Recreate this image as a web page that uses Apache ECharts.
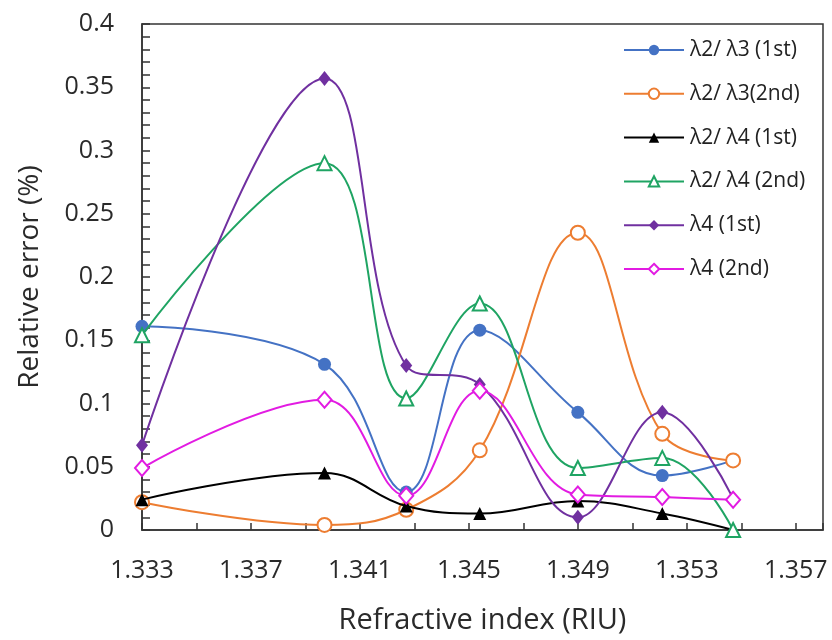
<!DOCTYPE html>
<html>
<head>
<meta charset="utf-8">
<script src="https://cdn.jsdelivr.net/npm/echarts@6/dist/echarts.min.js"></script>
<style>html,body{margin:0;padding:0;background:#fff;}#chart{width:832px;height:640px;}</style>
</head>
<body>
<div id="chart"></div>
<script>
// Refractive index (RIU) of the measured points
const xValues = [1.3330, 1.3397, 1.3427, 1.3454, 1.3490, 1.3521, 1.3547];
// Relative error (%)
const l23first  = [0.161, 0.131, 0.030, 0.158, 0.093, 0.043, 0.055];
const l23second = [0.022, 0.004, 0.016, 0.063, 0.235, 0.076, 0.055];
const l24first  = [0.024, 0.045, 0.019, 0.013, 0.023, 0.013, 0.000];
const l24second = [0.154, 0.290, 0.104, 0.179, 0.049, 0.057, 0.000];
const l4first   = [0.067, 0.357, 0.130, 0.115, 0.010, 0.093, 0.025];
const l4second  = [0.049, 0.103, 0.027, 0.110, 0.028, 0.026, 0.024];
const seriesNames = ['λ2/ λ3 (1st)', 'λ2/ λ3(2nd)', 'λ2/ λ4 (1st)', 'λ2/ λ4 (2nd)', 'λ4 (1st)', 'λ4 (2nd)'];
const xTickLabels = ['1.333', '1.337', '1.341', '1.345', '1.349', '1.353', '1.357'];
const yTickLabels = ['0', '0.05', '0.1', '0.15', '0.2', '0.25', '0.3', '0.35', '0.4'];

const X0 = 1.333; // axis start, axis works in thousandths above this
const toAxis = x => Math.round((x - X0) * 100000) / 100;

const allValues = [l23first, l23second, l24first, l24second, l4first, l4second];
const colors = ['#4472C4', '#ED7D31', '#000000', '#1FA463', '#7030A0', '#E21BE2'];
const symbols = ['circle', 'emptyCircle', 'triangle', 'emptyTriangle', 'diamond', 'emptyDiamond'];
const sizes = [13, 14, 13, 14, [12, 15], [14, 16]];

const FONT = '"Open Sans", sans-serif';

const chart = echarts.init(document.getElementById('chart'), null, {renderer: 'canvas'});
const series = allValues.map((vals, i) => ({
  name: seriesNames[i],
  type: 'line',
  smooth: 0.4,
  data: vals.map((v, j) => [toAxis(xValues[j]), v]),
  symbol: symbols[i],
  symbolSize: sizes[i],
  showAllSymbol: true,
  lineStyle: {color: colors[i], width: 2},
  itemStyle: {color: colors[i], borderColor: colors[i], borderWidth: symbols[i].startsWith('empty') ? 2.2 : 0},
  z: 2 + i
}));

chart.setOption({
  animation: false,
  backgroundColor: '#fff',
  grid: {left: 142, top: 24, right: 9, bottom: 110, show: true, borderColor: '#333', borderWidth: 1.5, backgroundColor: 'transparent'},
  legend: {
    orient: 'vertical',
    left: 618, top: 33,
    itemWidth: 60, itemHeight: 13, itemGap: 19.8,
    textStyle: {fontFamily: FONT, fontSize: 21, color: '#222', lineHeight: 24, padding: [0, 0, 0, 1]},
    data: seriesNames
  },
  xAxis: {
    type: 'value', min: 0, max: 25, interval: 2,
    name: 'Refractive index (RIU)', nameLocation: 'middle', nameGap: 76,
    nameTextStyle: {fontFamily: FONT, fontSize: 29, color: '#2a2a2a'},
    axisLine: {show: true, onZero: false, lineStyle: {color: '#333', width: 1.5}},
    axisTick: {show: true, inside: true, length: 7, lineStyle: {color: '#333', width: 1.5}},
    axisLabel: {
      fontFamily: FONT, fontSize: 25, color: '#2a2a2a', margin: 28,
      showMaxLabel: true,
      formatter: v => (Math.round(v) % 4 === 0 ? xTickLabels[Math.round(v) / 4] : '')
    },
    splitLine: {show: false}
  },
  yAxis: {
    type: 'value', min: 0, max: 0.4, interval: 0.05,
    name: 'Relative error (%)', nameLocation: 'middle', nameGap: 98,
    nameTextStyle: {fontFamily: FONT, fontSize: 28, color: '#2a2a2a'},
    axisLine: {show: true, lineStyle: {color: '#333', width: 1.5}},
    axisTick: {show: true, inside: true, length: 8, lineStyle: {color: '#333', width: 1.5}},
    minorTick: {show: true, splitNumber: 5, length: 8, lineStyle: {color: '#333', width: 1.5}},
    axisLabel: {
      fontFamily: FONT, fontSize: 25, color: '#2a2a2a', margin: 28,
      formatter: v => yTickLabels[Math.round(v / 0.05)]
    },
    splitLine: {show: false}
  },
  series: series
});
</script>
</body>
</html>
